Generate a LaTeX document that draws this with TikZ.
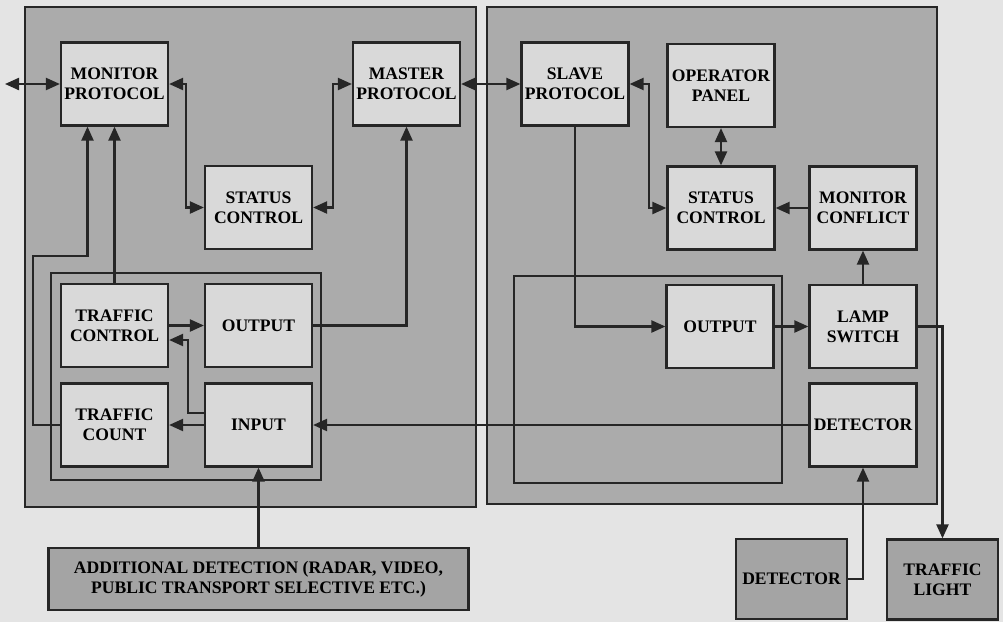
\documentclass[tikz,border=0pt]{standalone}
\usepackage{fontspec}
\setmainfont{Liberation Serif}
\usepackage{xcolor}
\definecolor{paper}{HTML}{E4E4E4}
\definecolor{panelgray}{HTML}{ABABAB}
\definecolor{boxgray}{HTML}{D9D9D9}
\definecolor{shade}{HTML}{A4A4A4}
\definecolor{ink}{HTML}{262626}
\usepackage{tikz}
\usetikzlibrary{arrows.meta,calc}
\tikzset{
  >={Triangle[length=7pt,width=6pt]},
  panel/.style={draw=ink,line width=0.9pt,fill=panelgray},
  frame/.style={draw=ink,line width=0.8pt},
  box/.style={draw=ink,line width=1.1pt,fill=boxgray,minimum width=53.5pt,minimum height=41.5pt,inner sep=1pt,align=center,font=\fontsize{8.8}{10}\selectfont\bfseries},
  dbox/.style={box,fill=shade},
  arr/.style={->,draw=ink,line width=1.1pt},
  darr/.style={<->,draw=ink,line width=1.1pt},
}

\begin{document}
\begin{tikzpicture}[x=0.5pt,y=-0.5pt]
\fill[paper] (0,0) rectangle (1003,622);
\useasboundingbox (0,0) rectangle (1003,622);
% the two controller panels and their inner frames
\draw[panel] (25,7) rectangle (476,507);
\draw[panel] (487,7) rectangle (937,504);
\draw[frame] (51,273) rectangle (321,480);
\draw[frame] (514,276) rectangle (782,483);
% left panel
\node[box] (monprot) at (114.5,84) {MONITOR\\PROTOCOL};
\node[box] (mastprot) at (406.5,84) {MASTER\\PROTOCOL};
\node[box] (lstatus) at (258.5,207.5) {STATUS\\CONTROL};
\node[box] (tctrl) at (114.5,325.5) {TRAFFIC\\CONTROL};
\node[box] (lout) at (258.5,325.5) {OUTPUT};
\node[box] (tcount) at (114.5,425) {TRAFFIC\\COUNT};
\node[box] (input) at (258.5,425) {INPUT};
% right panel
\node[box] (slaveprot) at (575,84) {SLAVE\\PROTOCOL};
\node[box] (oppanel) at (721,85.5) {OPERATOR\\PANEL};
\node[box] (rstatus) at (721,208) {STATUS\\CONTROL};
\node[box] (monconf) at (863,208) {MONITOR\\CONFLICT};
\node[box] (rout) at (720,326.5) {OUTPUT};
\node[box] (lamp) at (863,326.5) {LAMP\\SWITCH};
\node[box] (pdet) at (863,425) {DETECTOR};
% field devices
\node[dbox,minimum width=210pt,minimum height=31pt] (adddet) at (258.5,579) {ADDITIONAL DETECTION (RADAR, VIDEO,\\PUBLIC TRANSPORT SELECTIVE ETC.)};
\node[dbox,minimum width=55.5pt,minimum height=40pt] (extdet) at (791.5,579) {DETECTOR};
\node[dbox,minimum width=55.5pt,minimum height=40pt] (tlight) at (942.5,579.5) {TRAFFIC\\LIGHT};
\coordinate (ext) at (5,84);
% connectors
\draw[darr] (ext) -- (monprot.west);
\draw[darr] (monprot.east) -- ++(17,0) |- (lstatus.west);
\draw[darr] (lstatus.east) -- ++(20,0) |- (mastprot.west);
\draw[darr] (mastprot) -- (slaveprot);
\draw[arr] (lout) -| (mastprot);
\draw[arr] (tctrl) -- (monprot);
\draw[arr] (tcount.west) -| (33,256) -| ($(monprot.south)+(-27,0)$);
\draw[arr] (tctrl) -- (lout);
\draw[arr] ($(input.west)+(0,-12)$) -| (188,340) -- ($(tctrl.east)+(0,14.5)$);
\draw[arr] (input) -- (tcount);
\draw[arr] (pdet) -- (input);
\draw[arr] (adddet) -- (input);
\draw[arr] (slaveprot) |- (rout);
\draw[darr] (slaveprot.east) -- ++(19,0) |- (rstatus.west);
\draw[darr] (oppanel) -- (rstatus);
\draw[arr] (monconf) -- (rstatus);
\draw[arr] (lamp) -- (monconf);
\draw[arr] (rout) -- (lamp);
\draw[arr] (lamp) -| (tlight);
\draw[arr] (extdet) -| (pdet);
\end{tikzpicture}
\end{document}
